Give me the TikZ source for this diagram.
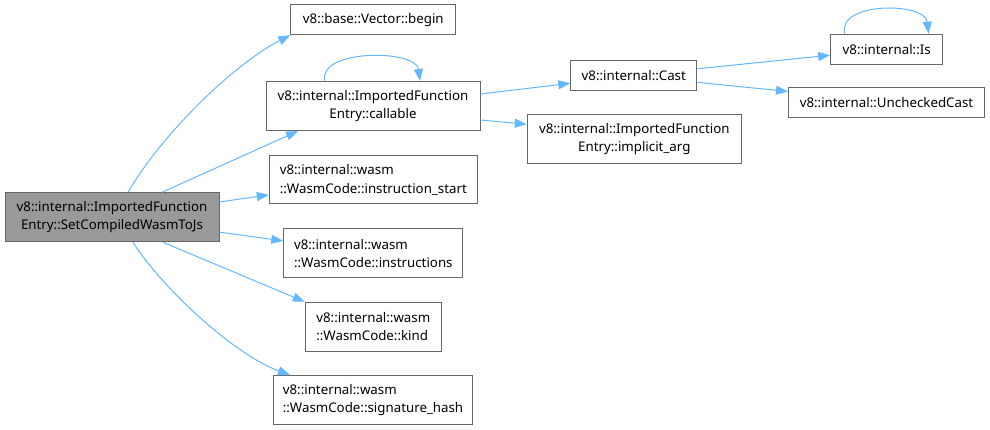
\documentclass[tikz,border=0pt]{standalone}
\usepackage{fontspec}
\setmainfont{Noto Sans}
\usetikzlibrary{arrows.meta,positioning}
\definecolor{call-blue}{HTML}{63B8FF}
\definecolor{box-gray}{HTML}{666666}
\definecolor{root-gray}{HTML}{999999}

\begin{document}
\begin{tikzpicture}[x=1pt, y=1pt,
    fn/.style={draw=box-gray, line width=1pt, rectangle, inner sep=0pt,
               font=\fontsize{13.3}{18.3}\selectfont},
    wh/.style 2 args={minimum width=#1pt, minimum height=#2pt},
    call/.style={call-blue, line width=1pt, -{Triangle[length=12pt, width=9pt]}}]
    \useasboundingbox (0,0) rectangle (990,-430);
    % callers and callees
    \node[fn, fill=root-gray, wh={214}{49}, align=center] (setjs) at (112,-217.3) {v8::internal::ImportedFunction\\Entry::SetCompiledWasmToJs};
    \node[fn, wh={165}{30}] (begin) at (373.3,-19.7) {v8::base::Vector::begin};
    \node[fn, wh={214}{49}, align=center] (callable) at (373,-106) {v8::internal::ImportedFunction\\Entry::callable};
    \node[fn, wh={208}{48}, align=left] (istart) at (373.3,-180) {v8::internal::wasm\\::WasmCode::instruction\_start};
    \node[fn, wh={179}{49}, align=left] (instrs) at (373.3,-253.3) {v8::internal::wasm\\::WasmCode::instructions};
    \node[fn, wh={136}{49}, align=left] (kind) at (373.3,-326.8) {v8::internal::wasm\\::WasmCode::kind};
    \node[fn, wh={199}{49}, align=left] (sighash) at (373,-400) {v8::internal::wasm\\::WasmCode::signature\_hash};
    \node[fn, wh={126}{30}] (cast) at (633.8,-75.8) {v8::internal::Cast};
    \node[fn, wh={214}{49}, align=center] (implicit) at (634.3,-138.8) {v8::internal::ImportedFunction\\Entry::implicit\_arg};
    \node[fn, wh={112}{30}] (is) at (886.7,-49.2) {v8::internal::Is};
    \node[fn, wh={196}{30}] (unchecked) at (886.5,-102.5) {v8::internal::UncheckedCast};
    % calls
    \draw[call] ([xshift=16pt]setjs.north) .. controls +(35,60) and +(-55,-28) .. (begin.south west);
    \draw[call] ([xshift=50pt]setjs.north) -- ([xshift=-75pt]callable.south);
    \draw[call] (setjs) -- (istart);
    \draw[call] (setjs) -- (instrs);
    \draw[call] ([xshift=51pt]setjs.south) -- (kind.north west);
    \draw[call] ([xshift=21pt]setjs.south) .. controls +(30,-47) and +(-55,20) .. ([xshift=-83pt]sighash.north);
    \draw[call] ([xshift=-48pt]callable.north) .. controls +(-8,32) and +(-4,32) .. ([xshift=47pt]callable.north);
    \draw[call] ([yshift=12pt]callable.east) -- ([yshift=-7.5pt]cast.west);
    \draw[call] ([yshift=-14pt]callable.east) -- ([yshift=14.5pt]implicit.west);
    \draw[call] ([yshift=7pt]cast.east) -- ([yshift=-6pt]is.west);
    \draw[call] ([yshift=-6.5pt]cast.east) -- ([yshift=11pt]unchecked.west);
    \draw[call] ([xshift=-42pt]is.north) .. controls +(-8,32) and +(-4,32) .. ([xshift=42pt]is.north);
\end{tikzpicture}
\end{document}
